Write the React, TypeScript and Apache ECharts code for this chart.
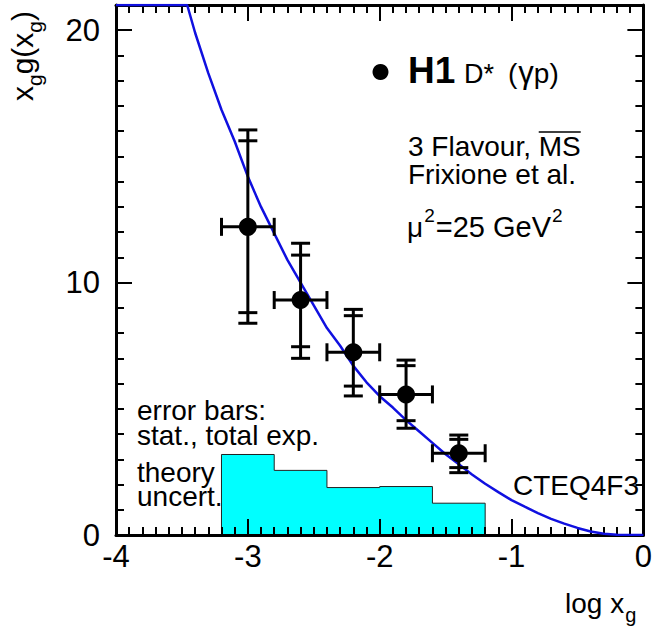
import React, { useEffect, useRef } from 'react';
import * as echarts from 'echarts';

// ---- data ----
const X_MIN = -4;
const X_MAX = 0;
const Y_MIN = 0;
const Y_MAX = 21;
const yLabelValues = [0, 10, 20];

const pointX = [-3.0, -2.6, -2.2, -1.8, -1.4];
const pointY = [12.21, 9.31, 7.24, 5.57, 3.24];
const xErrLo = [-3.2, -2.8, -2.4, -2.0, -1.6];
const xErrHi = [-2.8, -2.4, -2.0, -1.6, -1.2];
const statLo = [8.81, 7.46, 5.9, 4.53, 2.67];
const statHi = [15.62, 11.09, 8.69, 6.71, 3.79];
const totLo = [8.39, 7.0, 5.51, 4.23, 2.47];
const totHi = [16.05, 11.56, 8.94, 6.93, 3.96];

const bandEdges = [-3.2, -2.8, -2.4, -2.0, -1.6, -1.2];
const bandValues = [3.19, 2.56, 1.88, 1.92, 1.26];

const curveX = [-4.0, -3.46, -3.4, -3.3, -3.2, -3.1, -3.0, -2.9, -2.8, -2.7, -2.6, -2.5, -2.4, -2.3, -2.2, -2.1, -2.0, -1.9, -1.8, -1.7, -1.6, -1.5, -1.4, -1.3, -1.2, -1.1, -1.0, -0.9, -0.8, -0.7, -0.6, -0.5, -0.4, -0.3, -0.2, 0.0];
const curveY = [21, 21, 19.9, 18.3, 16.85, 15.6, 14.2, 13.0, 11.95, 10.9, 10.0, 9.1, 8.2, 7.5, 6.7, 6.05, 5.5, 5.05, 4.55, 4.1, 3.65, 3.2, 2.8, 2.4, 2.03, 1.7, 1.38, 1.12, 0.87, 0.64, 0.45, 0.28, 0.14, 0.05, 0.01, 0];

// ---- helpers ----
const FF = '"Liberation Sans", Arial, Helvetica, sans-serif';
let measureCtx: CanvasRenderingContext2D | null = null;
function textWidth(t: string, font: string): number {
  if (!measureCtx) measureCtx = document.createElement('canvas').getContext('2d');
  measureCtx!.font = font;
  return measureCtx!.measureText(t).width;
}
function fontOf(size: number, weight = 'normal') {
  return `${weight} ${size}px ${FF}`;
}
function T(text: string, x: number, base: number, size: number, weight = 'normal') {
  return {
    type: 'text',
    x,
    y: base - 0.3465 * size,
    silent: true,
    style: {
      text,
      font: fontOf(size, weight),
      fill: '#000',
      textAlign: 'left',
      align: 'left',
      textVerticalAlign: 'middle',
      verticalAlign: 'middle',
    },
  };
}
type Piece = { t: string; size: number; dy?: number; weight?: string; gap?: number };
function seq(pieces: Piece[], x0: number, base: number) {
  let x = x0;
  const out: any[] = [];
  for (const p of pieces) {
    x += p.gap || 0;
    out.push(T(p.t, x, base + (p.dy || 0), p.size, p.weight || 'normal'));
    x += textWidth(p.t, fontOf(p.size, p.weight || 'normal'));
  }
  return out;
}

export default function App() {
  const ref = useRef<HTMLDivElement>(null);
  useEffect(() => {
    if (!ref.current) return;
    const chart = echarts.init(ref.current, undefined, { renderer: 'svg' });

    const bandData: number[][] = [[bandEdges[0], 0]];
    for (let i = 0; i < bandValues.length; i++) {
      bandData.push([bandEdges[i], bandValues[i]]);
      bandData.push([bandEdges[i + 1], bandValues[i]]);
    }
    bandData.push([bandEdges[bandEdges.length - 1], 0]);

    const curveData = curveX.map((x, i) => [x, curveY[i]]);
    const pointData = pointX.map((x, i) => [x, pointY[i]]);
    const errData = pointX.map((x, i) => [x, pointY[i], xErrLo[i], xErrHi[i], statLo[i], statHi[i], totLo[i], totHi[i]]);

    const tickCommon = {
      axisLine: { show: true, onZero: false, lineStyle: { color: '#000', width: 3 } },
      axisTick: { show: true, inside: true, length: 16, lineStyle: { color: '#000', width: 2 } },
      minorTick: { show: true, splitNumber: 10, length: 8, lineStyle: { color: '#000', width: 2 } },
      splitLine: { show: false },
      minorSplitLine: { show: false },
    };

    const flavourBase = 156;
    const flavourX = 408;
    const msStart = flavourX + textWidth('3 Flavour, ', fontOf(28));
    const msEnd = msStart + textWidth('MS', fontOf(28));

    const graphics: any[] = [
      { type: 'circle', shape: { cx: 380.5, cy: 72, r: 8 }, style: { fill: '#000' }, silent: true },
      T('H1', 408, 83, 37, 'bold'),
      T('D*', 464, 83, 27),
      ...seq([
        { t: '(', size: 28 },
        { t: '\u03B3', size: 31, gap: 1 },
        { t: 'p', size: 28 },
        { t: ')', size: 28 },
      ], 508, 83),
      T('3 Flavour, MS', flavourX, flavourBase, 28),
      { type: 'line', shape: { x1: msStart, y1: 132, x2: msEnd, y2: 132 }, style: { stroke: '#000', lineWidth: 1.5 }, silent: true },
      T('Frixione et al.', 408, 184, 28),
      ...seq([
        { t: '\u03BC', size: 28 },
        { t: '2', size: 19, dy: -15, gap: 1 },
        { t: '=25 GeV', size: 29, gap: 1 },
        { t: '2', size: 19, dy: -15, gap: 1 },
      ], 407, 237),
      T('error bars:', 137, 420, 28),
      T('stat., total exp.', 137, 445, 28),
      T('theory', 137, 482, 28),
      T('uncert.', 137, 506, 28),
      T('CTEQ4F3', 513, 495, 28),
      ...seq([
        { t: 'log x', size: 28 },
        { t: 'g', size: 20, dy: 9, gap: 1 },
      ], 565, 613),
      {
        type: 'group',
        x: 33,
        y: 101,
        rotation: Math.PI / 2,
        children: seq([
          { t: 'x', size: 30 },
          { t: 'g', size: 21, dy: 9 },
          { t: 'g(x', size: 30 },
          { t: 'g', size: 21, dy: 9 },
          { t: ')', size: 30 },
        ], 0, 0),
      },
    ];

    chart.setOption({
      animation: false,
      grid: { left: 116, top: 5, right: 10, bottom: 97, containLabel: false },
      xAxis: [
        {
          type: 'value', min: X_MIN, max: X_MAX, interval: 1, position: 'bottom', z: 3,
          ...tickCommon,
          axisLabel: { show: true, color: '#000', fontSize: 31, fontFamily: FF, margin: 6 },
        },
        {
          type: 'value', min: X_MIN, max: X_MAX, interval: 1, position: 'top', z: 3,
          ...tickCommon,
          axisLabel: { show: false },
        },
      ],
      yAxis: [
        {
          type: 'value', min: Y_MIN, max: Y_MAX, interval: 10, position: 'left', z: 3,
          ...tickCommon,
          axisLabel: {
            show: true, color: '#000', fontSize: 31, fontFamily: FF, margin: 16,
            formatter: (v: number) => (yLabelValues.indexOf(v) >= 0 ? String(v) : ''),
          },
        },
        {
          type: 'value', min: Y_MIN, max: Y_MAX, interval: 10, position: 'right', z: 3,
          ...tickCommon,
          axisLabel: { show: false },
        },
      ],
      series: [
        {
          type: 'line',
          data: bandData,
          symbol: 'none',
          lineStyle: { color: '#222', width: 1 },
          areaStyle: { color: '#00FFFF', opacity: 1 },
          z: 1,
          silent: true,
        },
        {
          type: 'line',
          data: curveData,
          symbol: 'none',
          lineStyle: { color: '#1010e0', width: 2.5 },
          z: 4,
          silent: true,
        },
        {
          type: 'custom',
          data: errData,
          encode: { x: 0, y: 1 },
          z: 5,
          silent: true,
          renderItem: (params: any, api: any) => {
            const x = api.value(0);
            const y = api.value(1);
            const c = api.coord([x, y]);
            const l = api.coord([api.value(2), y]);
            const r = api.coord([api.value(3), y]);
            const sLo = api.coord([x, api.value(4)]);
            const sHi = api.coord([x, api.value(5)]);
            const tLo = api.coord([x, api.value(6)]);
            const tHi = api.coord([x, api.value(7)]);
            const style = { stroke: '#000', lineWidth: 3, fill: 'none' };
            const cw = 9.5;
            const ch = 9;
            const mk = (x1: number, y1: number, x2: number, y2: number) => ({
              type: 'line', shape: { x1, y1, x2, y2 }, style,
            });
            return {
              type: 'group',
              children: [
                mk(c[0], tHi[1], c[0], tLo[1]),
                mk(l[0], c[1], r[0], c[1]),
                mk(c[0] - cw, sLo[1], c[0] + cw, sLo[1]),
                mk(c[0] - cw, sHi[1], c[0] + cw, sHi[1]),
                mk(c[0] - cw, tLo[1], c[0] + cw, tLo[1]),
                mk(c[0] - cw, tHi[1], c[0] + cw, tHi[1]),
                mk(l[0], c[1] - ch, l[0], c[1] + ch),
                mk(r[0], c[1] - ch, r[0], c[1] + ch),
              ],
            };
          },
        },
        {
          type: 'scatter',
          data: pointData,
          symbol: 'circle',
          symbolSize: 18,
          itemStyle: { color: '#000', opacity: 1 },
          z: 6,
          silent: true,
        },
      ],
      graphic: graphics,
    });

    return () => chart.dispose();
  }, []);

  return <div ref={ref} style={{ width: 655, height: 632, position: 'absolute', left: 0, top: 0 }} />;
}
